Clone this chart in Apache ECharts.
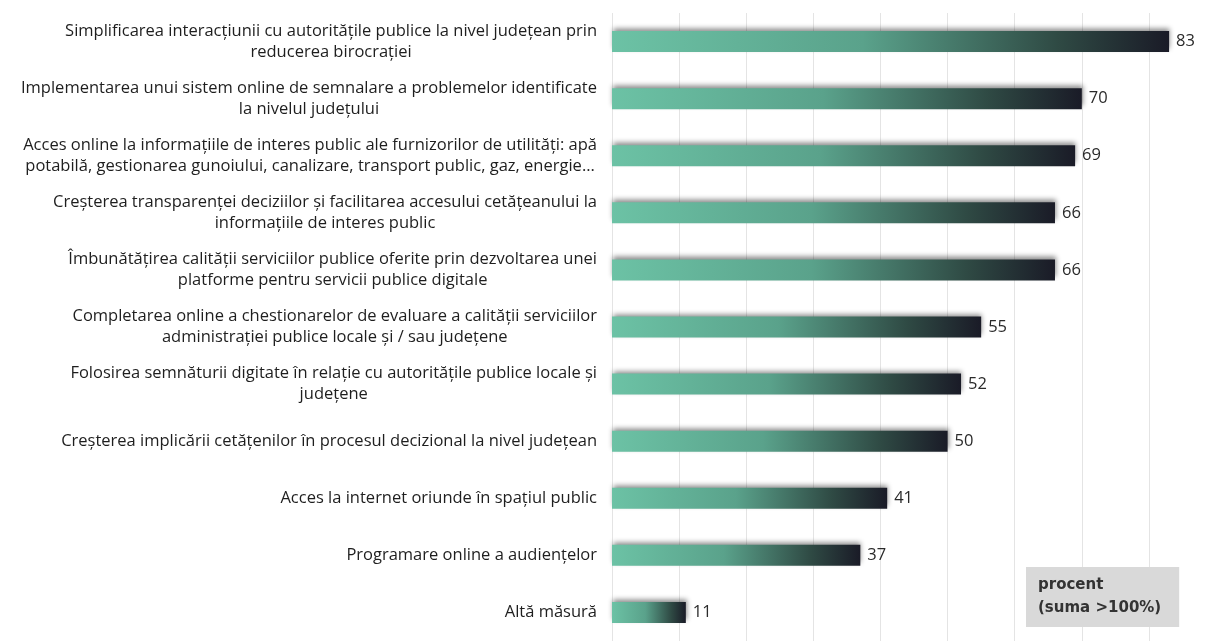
<!DOCTYPE html>
<html>
<head>
<meta charset="utf-8">
<script src="https://cdn.jsdelivr.net/npm/echarts@6/dist/echarts.min.js"></script>
<style>
  html, body { margin: 0; padding: 0; background: #fff; }
  #chart { width: 1206px; height: 641px; }
</style>
</head>
<body>
<div id="chart"></div>
<script>
// masuri (de sus in jos)
const categories = [
  'Simplificarea interacțiunii cu autoritățile publice la nivel județean prin\nreducerea birocrației',
  'Implementarea unui sistem online de semnalare a problemelor identificate\nla nivelul județului',
  'Acces online la informațiile de interes public ale furnizorilor de utilități: apă\npotabilă, gestionarea gunoiului, canalizare, transport public, gaz, energie...',
  'Creșterea transparenței deciziilor și facilitarea accesului cetățeanului la\ninformațiile de interes public',
  'Îmbunătățirea calității serviciilor publice oferite prin dezvoltarea unei\nplatforme pentru servicii publice digitale',
  'Completarea online a chestionarelor de evaluare a calității serviciilor\nadministrației publice locale și / sau județene',
  'Folosirea semnăturii digitate în relație cu autoritățile publice locale și\njudețene',
  'Creșterea implicării cetățenilor în procesul decizional la nivel județean',
  'Acces la internet oriunde în spațiul public',
  'Programare online a audiențelor',
  'Altă măsură'
];
const values = [83, 70, 69, 66, 66, 55, 52, 50, 41, 37, 11];
const legendText = 'procent\n(suma >100%)';

const chart = echarts.init(document.getElementById('chart'));
const font = '"Open Sans", "Noto Sans", sans-serif';

// gradient pe fiecare bara: verde -> aproape negru
const barColor = new echarts.graphic.LinearGradient(0, 0, 1, 0, [
  { offset: 0, color: '#6cc2a5' },
  { offset: 0.45, color: '#5aa28b' },
  { offset: 0.8, color: '#2f4a44' },
  { offset: 1, color: '#1a1b27' }
]);

chart.setOption({
  animation: false,
  title: {
    text: legendText,
    left: 1026,
    top: 567,
    padding: [7, 18, 7, 12],
    backgroundColor: '#d9d9d9',
    textStyle: {
      fontFamily: '"DejaVu Sans", sans-serif',
      fontSize: 15,
      fontWeight: 'bold',
      color: '#333',
      lineHeight: 23
    }
  },
  grid: { left: 612, right: 0, top: 13, bottom: -5, containLabel: false },
  xAxis: {
    type: 'value',
    min: 0,
    max: 88.5,
    interval: 10,
    axisLabel: { show: false },
    axisLine: { show: false },
    axisTick: { show: false },
    splitLine: { lineStyle: { color: '#e4e4e4', width: 1 } }
  },
  yAxis: {
    type: 'category',
    inverse: true,
    data: categories,
    axisLine: { show: false },
    axisTick: { show: false },
    axisLabel: {
      margin: 15,
      align: 'right',
      formatter: function (v) {
        return v.split('\n').map(function (l) { return '{c|' + l + '}'; }).join('\n');
      },
      rich: {
        c: {
          align: 'center',
          fontFamily: font,
          fontSize: 16.5,
          lineHeight: 21,
          color: '#1e1e1e'
        }
      }
    }
  },
  series: [{
    type: 'bar',
    data: values,
    barWidth: 21,
    itemStyle: {
      color: barColor,
      shadowBlur: 5,
      shadowColor: 'rgba(0,0,0,0.45)',
      shadowOffsetX: 1,
      shadowOffsetY: -3
    },
    label: {
      show: true,
      position: 'right',
      distance: 7,
      fontFamily: font,
      fontSize: 16.5,
      color: '#2a2a2a'
    }
  }]
});
window.addEventListener('resize', function () { chart.resize(); });
</script>
</body>
</html>
